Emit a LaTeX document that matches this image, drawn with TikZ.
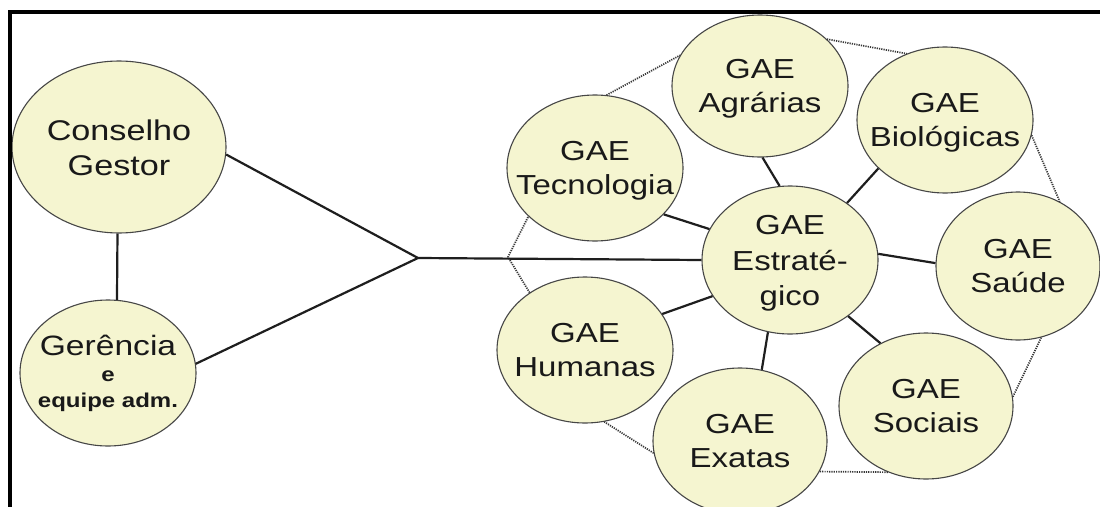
\documentclass[tikz,border=0pt]{standalone}
\usepackage{fontspec}
\setmainfont{Liberation Sans}
\usepackage{graphicx}
\usetikzlibrary{shapes.geometric}
\definecolor{fillc}{RGB}{245,245,208}
\definecolor{edgec}{RGB}{70,70,70}
\definecolor{dotc}{RGB}{55,55,55}
\definecolor{linec}{RGB}{30,30,30}
\definecolor{txtc}{RGB}{25,25,25}
\newcommand\ntext[3]{\setbox\strutbox\hbox{\vrule height #1pt depth #2pt width 0pt}\scalebox{1.2}[1]{\begin{tabular}{@{}c@{}}#3\end{tabular}}}
\newcommand\smallb[1]{{\fontsize{20}{24}\bfseries\selectfont #1}}
\begin{document}
\begin{tikzpicture}[x=1pt,y=-1pt,
  blob/.style={ellipse, draw=edgec, line width=1.1pt, fill=fillc,
    inner xsep=-70pt, inner ysep=-40pt, text=txtc,
    font=\fontsize{27.5}{33}\selectfont},
  gae/.style={blob, minimum width=176pt, minimum height=146pt},
  link/.style={draw=linec, line width=2.2pt},
  dots/.style={draw=dotc, line width=1.7pt, dash pattern=on 1.2pt off 1.1pt},
  frameline/.style={line width=3.5pt, black}]
\useasboundingbox (0,0) rectangle (1100,506);
\fill[white] (0,0) rectangle (1100,506);

% left group
\node[blob, minimum width=214pt, minimum height=172pt,
      font=\fontsize{28.5}{34}\selectfont] (cons) at (119,147)
      {\ntext{28}{7}{Conselho\\Gestor}};
\node[blob, minimum width=176pt, minimum height=146pt,
      font=\fontsize{28}{33}\selectfont] (ger) at (108,373)
      {\ntext{22}{4}{Gerência\\\smallb{e}\\\smallb{equipe adm.}}};

% right group
\node[gae] (tec) at (595,168) {\ntext{26.5}{7.5}{GAE\\Tecnologia}};
\node[gae, minimum height=142pt] (agr) at (760,86) {\ntext{26.5}{7.5}{GAE\\Agrárias}};
\node[gae] (bio) at (945,120) {\ntext{26.5}{7.5}{GAE\\Biológicas}};
\node[gae, minimum height=148pt] (est) at (790,260) {\ntext{28}{7.5}{GAE\\Estraté-\\gico}};
\node[gae, minimum width=164pt, minimum height=148pt] (sau) at (1018,266) {\ntext{26.5}{7.5}{GAE\\Saúde}};
\node[gae] (hum) at (585,350) {\ntext{26.5}{7.5}{GAE\\Humanas}};
\node[gae, minimum width=174pt] (exa) at (740,441) {\ntext{26.5}{7.5}{GAE\\Exatas}};
\node[gae, minimum width=174pt] (soc) at (926,406) {\ntext{26.5}{7.5}{GAE\\Sociais}};

\coordinate (J) at (418,258);
\coordinate (V) at (508,257);

% dotted outline
\draw[dots] (tec.81) -- (agr.159);
\draw[dots] (agr.35) -- (bio.120);
\draw[dots] (bio.-10) -- (sau.57);
\draw[dots] (sau.-72) -- (soc.6);
\draw[dots] (soc.-120) -- (exa.-21);
\draw[dots] (exa.188) -- (hum.-75);
\draw[dots] (hum.134) -- (V) -- (tec.216);

% solid links
\draw[link] (cons.-91) -- (ger.83);
\draw[link] (cons.-4) -- (J) -- (ger.6);
\draw[link] (J) -- (est.180);
\draw[link] (agr.-88) -- (est.98);
\draw[link] (tec.-34) -- (est.159);
\draw[link] (bio.216) -- (est.45);
\draw[link] (est.4) -- (sau.178);
\draw[link] (est.-44) -- (soc.126);
\draw[link] (est.-107) -- (exa.73);
\draw[link] (hum.25) -- (est.205);

% frame
\draw[frameline] (1110,12) -- (10,12) -- (10,520);
\end{tikzpicture}
\end{document}
